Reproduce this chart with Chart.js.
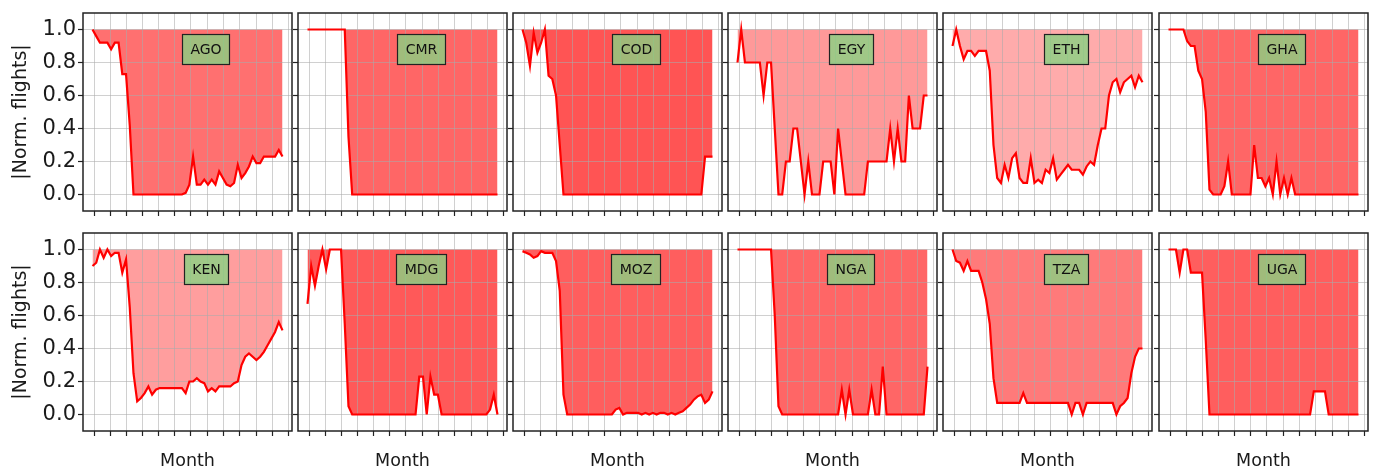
<!DOCTYPE html>
<html><head><meta charset="utf-8">
<script src="https://cdn.jsdelivr.net/npm/chart.js@4.4.0/dist/chart.umd.min.js"></script>
<style>
html,body{margin:0;padding:0;background:#fff;}
body{width:1375px;height:472px;position:relative;overflow:hidden;}
.p{position:absolute;}
</style></head><body>
<script>
// ---------- DATA ----------
const countries = ['AGO','CMR','COD','EGY','ETH','GHA','KEN','MDG','MOZ','NGA','TZA','UGA'];
// day of year 2020 for each weekly sample
const weekDays = [-3,4,11,18,25,32,39,46,53,60,67,74,81,88,95,102,109,116,123,130,137,144,151,158,165,172,179,186,193,200,207,214,221,228,235,242,249,256,263,270,277,284,291,298,305,312,319,326,333,340,347,354];
// month start ticks (day of year)
const monthTicks = [0,31,60,91,121,152,182,213,244,274,305,335,366];
const yTicks = [0,0.2,0.4,0.6,0.8,1.0];

const AGO = [1.0,0.96,0.92,0.92,0.92,0.88,0.92,0.92,0.73,0.73,0.42,0.0,0,0,0,0,0,0,0,0,0,0,0,0,0,0.01,0.06,0.23,0.06,0.06,0.09,0.06,0.09,0.06,0.14,0.1,0.06,0.05,0.07,0.18,0.1,0.13,0.17,0.23,0.19,0.19,0.23,0.23,0.23,0.23,0.27,0.23];
const CMR = [1,1,1,1,1,1,1,1,1,1,1,0.35,0,0,0,0,0,0,0,0,0,0,0,0,0,0,0,0,0,0,0,0,0,0,0,0,0,0,0,0,0,0,0,0,0,0,0,0,0,0,0,0];
const COD = [1.0,0.92,0.78,0.98,0.86,0.92,1.0,0.72,0.7,0.6,0.3,0.0,0,0,0,0,0,0,0,0,0,0,0,0,0,0,0,0,0,0,0,0,0,0,0,0,0,0,0,0,0,0,0,0,0,0,0,0,0,0.23,0.23,0.23];
const EGY = [0.8,1.0,0.8,0.8,0.8,0.8,0.8,0.6,0.8,0.8,0.4,0.0,0.0,0.2,0.2,0.4,0.4,0.2,0.0,0.2,0.0,0.0,0.0,0.2,0.2,0.2,0.0,0.4,0.2,0.0,0.0,0.0,0.0,0.0,0.0,0.2,0.2,0.2,0.2,0.2,0.2,0.4,0.2,0.4,0.2,0.2,0.6,0.4,0.4,0.4,0.6,0.6];
const ETH = [0.9,1.0,0.9,0.82,0.87,0.87,0.84,0.87,0.87,0.87,0.75,0.3,0.1,0.07,0.18,0.1,0.22,0.25,0.1,0.07,0.07,0.22,0.07,0.09,0.07,0.15,0.13,0.22,0.09,0.12,0.15,0.18,0.15,0.15,0.15,0.12,0.17,0.2,0.18,0.3,0.4,0.4,0.6,0.68,0.7,0.62,0.68,0.7,0.72,0.65,0.72,0.68];
const GHA = [1,1,1,1,1,0.93,0.9,0.9,0.75,0.7,0.5,0.03,0,0,0,0.05,0.2,0,0,0,0,0,0,0.3,0.1,0.1,0.05,0.1,0,0.2,0,0.1,0,0.1,0,0,0,0,0,0,0,0,0,0,0,0,0,0,0,0,0,0];
const KEN = [0.9,0.92,1.0,0.95,1.0,0.96,0.98,0.98,0.86,0.94,0.65,0.25,0.08,0.1,0.13,0.17,0.12,0.15,0.16,0.16,0.16,0.16,0.16,0.16,0.16,0.13,0.2,0.2,0.22,0.2,0.19,0.14,0.16,0.14,0.17,0.17,0.17,0.17,0.19,0.2,0.3,0.35,0.37,0.35,0.33,0.35,0.38,0.42,0.46,0.5,0.56,0.51];
const MDG = [0.67,0.9,0.78,0.9,1.0,0.88,1.0,1.0,1.0,1.0,0.55,0.05,0,0,0,0,0,0,0,0,0,0,0,0,0,0,0,0,0,0,0.23,0.23,0.0,0.23,0.12,0.12,0.0,0,0,0,0,0,0,0,0,0,0,0,0,0.03,0.12,0.0];
const MOZ = [0.99,0.98,0.97,0.95,0.96,0.99,0.98,0.98,0.98,0.93,0.75,0.12,0,0,0,0,0,0,0,0,0,0,0,0,0,0.03,0.04,0.0,0.01,0.01,0.01,0.01,0.0,0.01,0.0,0.01,0.0,0.01,0.01,0.0,0.01,0.0,0.01,0.02,0.04,0.06,0.09,0.11,0.12,0.07,0.09,0.14];
const NGA = [1,1,1,1,1,1,1,1,1,1,0.6,0.05,0,0,0,0,0,0,0,0,0,0,0,0,0,0,0,0,0.15,0,0.15,0,0,0,0,0,0.15,0,0,0.29,0,0,0,0,0,0,0,0,0,0,0,0.29];
const TZA = [1.0,0.93,0.92,0.87,0.93,0.87,0.87,0.87,0.8,0.7,0.55,0.22,0.07,0.07,0.07,0.07,0.07,0.07,0.07,0.13,0.07,0.07,0.07,0.07,0.07,0.07,0.07,0.07,0.07,0.07,0.07,0.07,0.0,0.07,0.07,0.0,0.07,0.07,0.07,0.07,0.07,0.07,0.07,0.07,0.0,0.05,0.07,0.1,0.25,0.35,0.4,0.4];
const UGA = [1,1,1,0.86,1,1,0.86,0.86,0.86,0.86,0.45,0.0,0,0,0,0,0,0,0,0,0,0,0,0,0,0,0,0,0,0,0,0,0,0,0,0,0,0,0,0.14,0.14,0.14,0.14,0,0,0,0,0,0,0,0,0];
const seriesByCountry = {AGO,CMR,COD,EGY,ETH,GHA,KEN,MDG,MOZ,NGA,TZA,UGA};

// ---------- STYLE ----------
const fillAlpha = [0.56,0.6,0.67,0.4,0.33,0.6,0.38,0.65,0.63,0.6,0.52,0.63];
const FONT = '"DejaVu Sans", sans-serif';
const TXT = '#1a1a1a';
const GRID = 'rgba(170,170,170,0.55)';
const colLeft = [83,298,513,728,943,1159];
const rowTop = [13,233];
const plotW = 209, plotH = 198;
const padT = 4, padR = 3;

const framePlugin = {
  id: 'frame',
  afterDraw(chart, args, opts) {
    const {ctx, chartArea: a, scales} = chart;
    ctx.save();
    const bx = scales.x.getPixelForValue(opts.boxX);
    const by = scales.y.getPixelForValue(opts.boxY);
    ctx.font = '14px ' + FONT;
    const tw = ctx.measureText(opts.label).width;
    const w = Math.round(tw + 16), h = 30;
    const x0 = Math.round(bx - w / 2) + 0.5, y0 = Math.round(by - h / 2) + 0.5;
    ctx.fillStyle = 'rgba(136,210,130,0.8)';
    ctx.fillRect(x0, y0, w, h);
    ctx.strokeStyle = '#222';
    ctx.lineWidth = 1.2;
    ctx.strokeRect(x0, y0, w, h);
    ctx.fillStyle = '#111';
    ctx.textAlign = 'center';
    ctx.textBaseline = 'middle';
    ctx.fillText(opts.label, x0 + w / 2, y0 + h / 2 + 1);
    ctx.strokeStyle = '#222';
    ctx.lineWidth = 1.5;
    ctx.strokeRect(a.left, a.top, a.right - a.left, a.bottom - a.top);
    ctx.restore();
  }
};

countries.forEach((c, k) => {
  const row = Math.floor(k / 6), col = k % 6;
  const yW = col === 0 ? 83 : 6;
  const xH = row === 1 ? 472 - (rowTop[1] + plotH) : 8;
  const left = colLeft[col] - yW;
  const top = rowTop[row] - padT;
  const width = yW + plotW + padR;
  const height = padT + plotH + xH;
  const div = document.createElement('div');
  div.className = 'p';
  div.style.left = left + 'px';
  div.style.top = top + 'px';
  div.style.width = width + 'px';
  div.style.height = height + 'px';
  const cv = document.createElement('canvas');
  div.appendChild(cv);
  document.body.appendChild(div);

  const vals = seriesByCountry[c];
  new Chart(cv, {
    type: 'line',
    data: {
      datasets: [{
        data: weekDays.map((d, i) => ({x: d, y: vals[i]})),
        borderColor: '#ff0000',
        borderWidth: 2.2,
        pointRadius: 0,
        tension: 0,
        fill: {value: 1},
        backgroundColor: 'rgba(255,0,0,' + fillAlpha[k] + ')'
      }]
    },
    options: {
      responsive: true,
      maintainAspectRatio: false,
      devicePixelRatio: 1,
      animation: false,
      events: [],
      layout: {autoPadding: false, padding: {left: 0, top: padT, right: padR, bottom: 0}},
      plugins: {
        legend: {display: false},
        tooltip: {enabled: false},
        filler: {propagate: false, drawTime: 'beforeDraw'},
        frame: {label: c, boxX: 210, boxY: 0.88}
      },
      scales: {
        x: {
          type: 'linear', min: -20.85, max: 371.85,
          afterBuildTicks: s => { s.ticks = monthTicks.map(v => ({value: v})); },
          ticks: {display: false},
          grid: {color: GRID, lineWidth: 1, tickColor: '#222', tickLength: 5, tickWidth: 1.2, drawTicks: true},
          border: {display: false},
          title: row === 1
            ? {display: true, text: 'Month', color: TXT, font: {family: FONT, size: 17.5}, padding: {top: 0, bottom: 0}}
            : {display: false},
          afterFit: s => { s.height = xH; s.paddingLeft = 0; s.paddingRight = 0; }
        },
        y: {
          type: 'linear', min: -0.1, max: 1.1,
          afterBuildTicks: s => { s.ticks = yTicks.map(v => ({value: v})); },
          ticks: {display: col === 0, padding: 2, color: TXT, font: {family: FONT, size: 21},
                  callback: v => Number(v).toFixed(1)},
          grid: {color: GRID, lineWidth: 1, tickColor: '#222', tickLength: 5, tickWidth: 1.2, drawTicks: true},
          border: {display: false},
          title: col === 0
            ? {display: true, text: '|Norm. flights|', color: TXT, font: {family: FONT, size: 19}, padding: {top: 10, bottom: 0}}
            : {display: false},
          afterFit: s => { s.width = yW; s.paddingTop = 0; s.paddingBottom = 0; }
        }
      }
    },
    plugins: [framePlugin]
  });
});
</script>
</body></html>
